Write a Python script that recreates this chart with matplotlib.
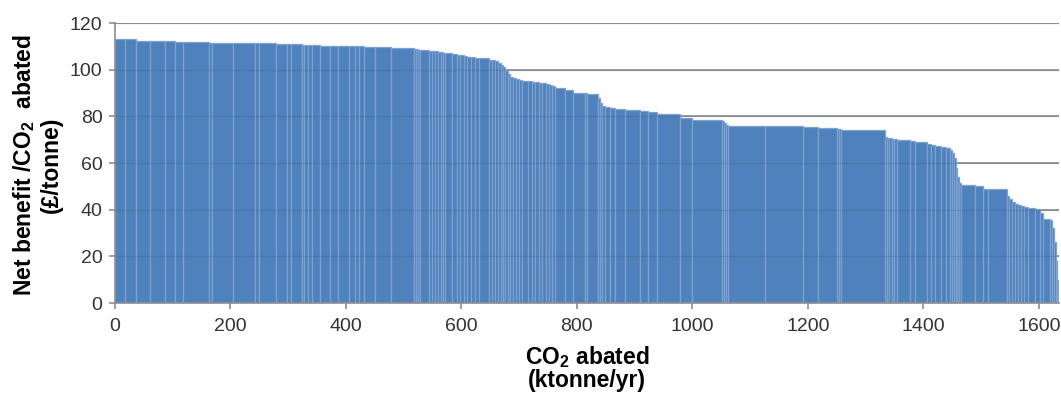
import numpy as np
import matplotlib
matplotlib.use('Agg')
import matplotlib.pyplot as plt

plt.rcParams['font.family'] = ['Liberation Sans', 'DejaVu Sans']
plt.rcParams['mathtext.fontset'] = 'custom'
plt.rcParams['mathtext.rm'] = 'Liberation Sans'
plt.rcParams['mathtext.bf'] = 'Liberation Sans:bold'

# CO2 abated by each measure (ktonne/yr), in merit order
abatement = [18, 18, 25, 25, 18, 13, 45, 6, 37, 38, 6, 30, 19, 6, 20, 4, 7, 6, 14, 18,
             14, 18, 11, 6, 9, 20, 27, 39, 4, 4, 4, 14, 6, 6, 4, 5, 4, 4, 12, 8,
             6, 6, 6, 6, 7, 7, 17, 6, 5, 5, 5, 4, 4, 4, 5, 5, 5, 5, 5, 11,
             6, 6, 6, 6, 6, 6, 5, 5, 17, 15, 20, 3, 19, 4, 4, 4, 9, 9, 17, 26,
             14, 15, 40, 21, 52, 3, 4, 3, 64, 67, 26, 32, 4, 4, 75, 4, 4, 4, 5, 4,
             23, 8, 21, 7, 7, 11, 9, 6, 4, 3, 3, 3, 3, 4, 23, 15, 8, 33, 4, 4,
             5, 6, 5, 6, 6, 12, 9, 5, 12, 4, 3, 3, 2, 2, 3]

# net benefit per tonne of CO2 abated (GBP/tonne)
benefit = [113.0, 113.0, 112.5, 112.4, 112.3, 111.8, 111.7, 111.6, 111.6, 111.5,
           111.5, 111.4, 111.0, 111.0, 110.8, 110.5, 110.5, 110.4, 110.4, 110.3,
           110.3, 110.2, 110.2, 110.1, 110.0, 109.9, 109.6, 109.2, 108.8, 108.7,
           108.6, 108.4, 108.2, 108.0, 107.8, 107.6, 107.4, 107.3, 107.0, 106.6,
           106.3, 106.1, 105.9, 105.6, 105.4, 105.2, 104.8, 104.3, 104.0, 103.6,
           103.0, 102.0, 101.0, 99.5, 98.0, 97.0, 96.5, 96.0, 95.5, 95.2,
           95.0, 94.8, 94.6, 94.4, 94.2, 93.8, 93.4, 93.0, 92.3, 91.5,
           90.2, 90.0, 89.5, 88.0, 85.6, 84.5, 84.1, 83.6, 83.2, 82.7,
           82.3, 81.8, 81.0, 79.2, 78.4, 77.8, 77.0, 76.5, 76.0, 76.0,
           75.6, 74.9, 74.6, 74.4, 74.1, 71.0, 70.8, 70.6, 70.4, 70.2,
           69.9, 69.3, 68.9, 68.0, 67.6, 67.2, 67.0, 66.3, 65.6, 64.5,
           62.0, 58.0, 54.0, 51.5, 50.6, 50.2, 49.0, 48.9, 46.0, 44.5,
           43.5, 42.6, 42.0, 41.6, 41.2, 40.8, 40.2, 38.5, 36.0, 35.5,
           32.0, 26.0, 18.0, 10.0, 4.0]

xticks = [0, 200, 400, 600, 800, 1000, 1200, 1400, 1600]
yticks = [0, 20, 40, 60, 80, 100, 120]

W, H = 1061, 394
fig = plt.figure(figsize=(W / 100, H / 100), dpi=100)
ax = fig.add_axes([115 / W, 1 - 303 / H, (1059 - 115) / W, (303 - 23) / H])

widths = np.array(abatement, dtype=float)
lefts = np.concatenate([[0], np.cumsum(widths)[:-1]])

ax.bar(lefts, benefit, width=widths, align='edge', color='#4f81bd',
       edgecolor='#7ea2d0', linewidth=0.9, zorder=2)

# gridlines behind, plus a faint copy showing through the bars
ax.set_axisbelow(True)
ax.yaxis.grid(True, color='#8c8c8c', linewidth=1.2)
for yv in yticks[1:]:
    ax.axhline(yv, color='#40556e', alpha=0.22, linewidth=1.0, zorder=3)

ax.set_xlim(0, 1635)
ax.set_ylim(0, 120)
ax.set_xticks(xticks)
ax.set_yticks(yticks)
ax.tick_params(axis='both', colors='#8c8c8c', labelcolor='#333333',
               labelsize=14, length=4, width=1.2)
ax.tick_params(axis='x', pad=7)
ax.tick_params(axis='y', pad=5)

for s in ['top', 'right']:
    ax.spines[s].set_visible(False)
for s in ['left', 'bottom']:
    ax.spines[s].set_color('#8c8c8c')
    ax.spines[s].set_linewidth(1.2)

fig.text(0.5 * (115 + 1059) / W, 1 - 357 / H, r'CO$_\mathbf{2}$ abated',
         fontsize=16.5, fontweight='bold', ha='center', va='center')
fig.text(0.5 * (115 + 1059) / W, 1 - 381 / H, '(ktonne/yr)',
         fontsize=16.5, fontweight='bold', ha='center', va='center')
fig.text(24 / W, 1 - 165 / H, r'Net benefit /CO$_\mathbf{2}$  abated',
         fontsize=16.5, fontweight='bold', ha='center', va='center', rotation=90)
fig.text(51 / W, 1 - 165 / H, '(£/tonne)',
         fontsize=16.5, fontweight='bold', ha='center', va='center', rotation=90)

fig.savefig('out.png', dpi=100)
